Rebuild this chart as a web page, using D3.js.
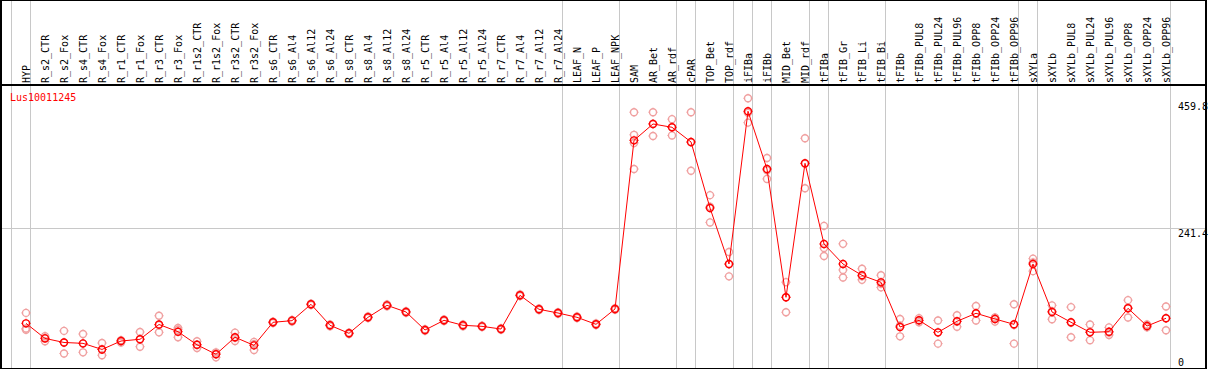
<!DOCTYPE html>
<html lang="en">
<head>
    <meta charset="UTF-8">
    <title>Lus10011245</title>
    <script src="https://d3js.org/d3.v7.min.js"></script>
    <style>
        body { margin: 0; background: #fff; }
        text { font-family: "DejaVu Sans Mono", monospace; font-size: 10px; }
        .grid { stroke: #c8c8c8; stroke-width: 1px; shape-rendering: crispEdges; }
        .frame { stroke: #000; stroke-width: 1.5px; fill: none; shape-rendering: crispEdges; }
        .line { fill: none; stroke: #ff0000; stroke-width: 1px; }
    </style>
</head>
<body>
    <div id="chart"></div>

    <script>
        var geneName = "Lus10011245";

        var samples = ["HYP", "R_s2_CTR", "R_s2_Fox", "R_s4_CTR", "R_s4_Fox", "R_r1_CTR", "R_r1_Fox",
            "R_r3_CTR", "R_r3_Fox", "R_r1s2_CTR", "R_r1s2_Fox", "R_r3s2_CTR", "R_r3s2_Fox",
            "R_s6_CTR", "R_s6_Al4", "R_s6_Al12", "R_s6_Al24", "R_s8_CTR", "R_s8_Al4", "R_s8_Al12",
            "R_s8_Al24", "R_r5_CTR", "R_r5_Al4", "R_r5_Al12", "R_r5_Al24", "R_r7_CTR", "R_r7_Al4",
            "R_r7_Al12", "R_r7_Al24", "LEAF_N", "LEAF_P", "LEAF_NPK", "SAM", "AR_Bet", "AR_rdf",
            "cPAR", "TOP_Bet", "TOP_rdf", "iFIBa", "iFIBb", "MID_Bet", "MID_rdf", "tFIBa",
            "tFIB_Gr", "tFIB_Li", "tFIB_Bi", "tFIBb", "tFIBb_PUL8", "tFIBb_PUL24", "tFIBb_PUL96",
            "tFIBb_OPP8", "tFIBb_OPP24", "tFIBb_OPP96", "sXYLa", "sXYLb", "sXYLb_PUL8",
            "sXYLb_PUL24", "sXYLb_PUL96", "sXYLb_OPP8", "sXYLb_OPP24", "sXYLb_OPP96"];

        var means = [77, 51, 44, 42.5, 32, 46.5, 49.5, 75, 62.6, 40, 23.6, 53, 39,
            78.8, 81.6, 109.8, 73.6, 59.8, 87.4, 108, 96.6, 65.5, 82.2, 73.6, 71.8, 67.2, 125.3,
            101.2, 94.8, 87.4, 75.3, 101.7, 392.5, 420.7, 415, 389.7, 275.9, 179.3, 442.6, 343,
            121.9, 352.9, 213.8, 179.3, 159.8, 147.7, 70.7, 82.2, 61.5, 80.5, 94.3, 84.5, 75.3,
            179.3, 96.6, 78.8, 61.5, 62.6, 102.9, 72.4, 85.7];

        var replicates = [
            [95, 68, 66], [55, 52, 46], [64, 44, 25], [58.6, 42, 27], [43, 32, 22],
            [48, 47, 44], [62, 50, 36.7], [90, 74, 61.5], [69, 66, 53], [46, 40, 34.5],
            [27, 25, 18.4], [61, 52, 46.5], [45, 41, 31],
            [80, 79, 77.5], [83, 81.5, 80], [111, 110, 108.5], [75, 73.5, 72], [61, 60, 58.5],
            [89, 87.5, 86], [109.5, 108, 106.5], [98, 96.5, 95], [67, 65.5, 64], [83.5, 82, 81],
            [75, 73.5, 72], [73, 72, 70.5], [68.5, 67, 66], [127, 125, 124], [102.5, 101, 100],
            [96, 95, 93.5], [89, 87.5, 86], [77, 75, 74], [103, 101.5, 100.5],
            [441, 402, 388, 343], [441, 421, 400], [429, 415, 401], [441, 389, 340],
            [298, 278, 251], [200, 179, 158], [465, 440, 423], [362, 341, 326],
            [148, 122, 96], [396, 352, 310], [245, 207, 193], [214, 169, 156],
            [171, 158, 152], [160, 145, 139], [84.5, 73, 54.6], [86, 82, 79],
            [82, 61, 42], [91, 80, 71], [107, 94, 82], [86.5, 87, 80], [110, 74, 42],
            [188.5, 182, 167], [108, 98, 84], [105, 78, 53], [75, 62, 48], [70, 61, 57],
            [117, 104, 87], [75, 72, 70], [106, 86, 65]];

        // first sample of each tissue group (a grey separator is drawn before it)
        var groupStarts = ["HYP", "R_s2_CTR", "LEAF_N", "SAM", "cPAR", "TOP_Bet", "iFIBa", "iFIBb",
            "MID_Bet", "tFIBa", "tFIB_Gr", "tFIBb", "sXYLa", "sXYLb"];

        var yTicks = [0, 241.4, 459.8];

        var width = 1209, height = 370,
            headerH = 85, plotBottom = 368;

        var svg = d3.select("#chart").append("svg")
            .attr("width", width)
            .attr("height", height);

        var x = d3.scaleBand()
            .domain(samples)
            .range([11, 1170])
            .paddingInner(0).paddingOuter(0);

        function px(name) { return x(name) + 15; }

        var y = d3.scaleLinear()
            .domain([0, 459.8])
            .range([plotBottom, 101.3]);

        // vertical group separators
        svg.selectAll("line.vsep")
            .data(groupStarts.map(function(d) { return x(d); }).concat([x.range()[1]]))
            .enter().append("line")
            .attr("class", "grid vsep")
            .attr("x1", function(d) { return Math.round(d) + 0.5; })
            .attr("x2", function(d) { return Math.round(d) + 0.5; })
            .attr("y1", 0)
            .attr("y2", plotBottom);

        // horizontal mid line
        svg.append("line")
            .attr("class", "grid")
            .attr("x1", 1).attr("x2", width - 3)
            .attr("y1", Math.round(y(yTicks[1])) + 0.5)
            .attr("y2", Math.round(y(yTicks[1])) + 0.5);

        // sample labels in header
        svg.selectAll("text.lab")
            .data(samples)
            .enter().append("text")
            .attr("class", "lab")
            .attr("transform", function(d) { return "translate(" + (px(d) + 0.5) + "," + (headerH - 2) + ") rotate(-90)"; })
            .attr("dy", "0.35em")
            .attr("fill", "#000")
            .text(function(d) { return d; });

        // y labels on right
        svg.selectAll("text.ytick")
            .data(yTicks)
            .enter().append("text")
            .attr("class", "ytick")
            .attr("x", 1178)
            .attr("y", function(d) { return Math.min(y(d) + 9, plotBottom - 2); })
            .attr("fill", "#000")
            .text(function(d) { return d; });

        svg.append("text")
            .attr("x", 10)
            .attr("y", 101)
            .attr("fill", "#ff0000")
            .text(geneName);

        function marker(g, color) {
            var r = 3.5;
            g.append("circle")
                .attr("r", r)
                .attr("fill", "none")
                .attr("stroke", color)
                .attr("stroke-width", 1.4);
            [[0, -1], [0, 1], [-1, 0], [1, 0]].forEach(function(v) {
                g.append("line")
                    .attr("x1", v[0] * r).attr("y1", v[1] * r)
                    .attr("x2", v[0] * (r + 1.1)).attr("y2", v[1] * (r + 1.1))
                    .attr("stroke", color)
                    .attr("stroke-width", 1);
            });
        }

        // replicate points
        var repData = [];
        replicates.forEach(function(reps, i) {
            reps.forEach(function(v) { repData.push({name: samples[i], value: v}); });
        });

        svg.selectAll("g.rep")
            .data(repData)
            .enter().append("g")
            .attr("class", "rep")
            .attr("transform", function(d) { return "translate(" + px(d.name) + "," + y(d.value) + ")"; })
            .each(function() { marker(d3.select(this), "#f0a0a0"); });

        // mean line
        var line = d3.line()
            .x(function(d, i) { return px(samples[i]); })
            .y(function(d) { return y(d); });

        svg.append("path")
            .datum(means)
            .attr("class", "line")
            .attr("d", line);

        svg.selectAll("g.mean")
            .data(means)
            .enter().append("g")
            .attr("class", "mean")
            .attr("transform", function(d, i) { return "translate(" + px(samples[i]) + "," + y(d) + ")"; })
            .each(function() { marker(d3.select(this), "#ff0000"); });

        // frame and header line
        svg.append("rect")
            .attr("class", "frame")
            .attr("x", 1).attr("y", 0.5)
            .attr("width", width - 4).attr("height", plotBottom);

        svg.append("line")
            .attr("class", "frame")
            .attr("x1", 1).attr("x2", width - 3)
            .attr("y1", headerH).attr("y2", headerH);
    </script>
</body>
</html>
